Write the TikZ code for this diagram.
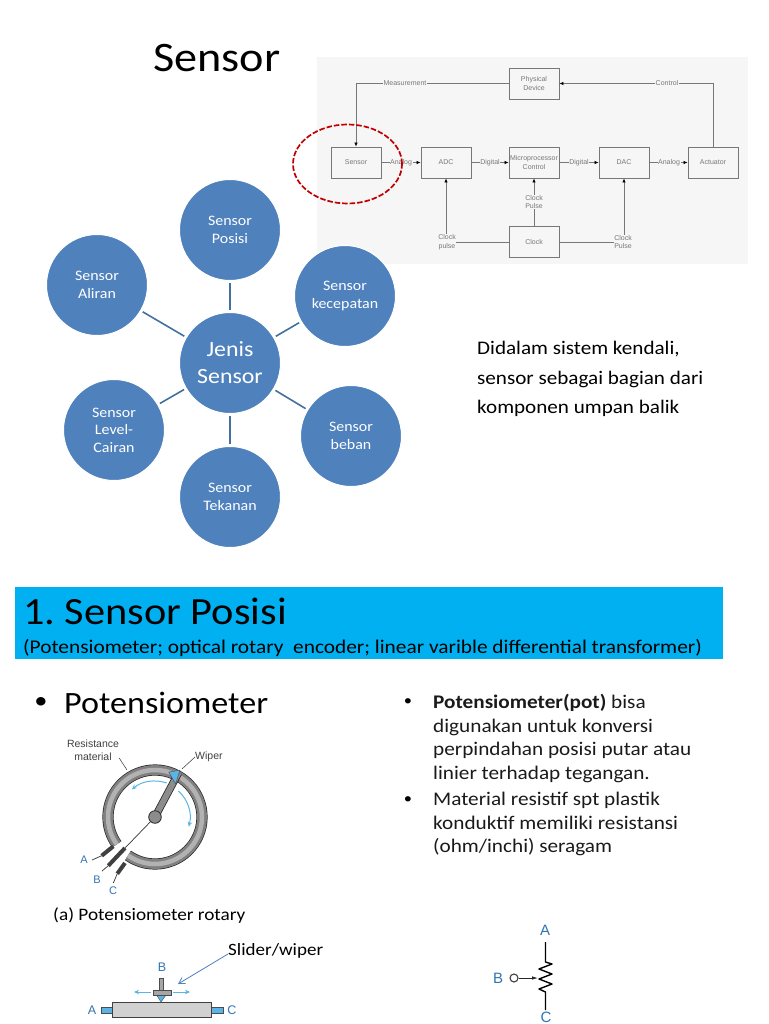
\documentclass[tikz,border=0pt]{standalone}
\usepackage{fontspec}
\setmainfont[FakeStretch=1.1]{Carlito}
\newfontfamily\labelfont{Liberation Sans}
\usetikzlibrary{arrows.meta}
\frenchspacing
\definecolor{circblue}{HTML}{4F81BD}
\definecolor{circline}{HTML}{41719C}
\definecolor{headcyan}{HTML}{00B0F0}
\definecolor{panelgray}{HTML}{F6F6F6}
\definecolor{flowgray}{HTML}{777777}
\definecolor{termblue}{HTML}{2F74B5}
\definecolor{partblue}{HTML}{5BB4E5}
\definecolor{circlered}{HTML}{C00000}
\definecolor{bodytext}{HTML}{1A1A1A}
\begin{document}
\begin{tikzpicture}[x=1pt, y=1pt]
    % Node styles
    \tikzset{
        jenis node/.style={circle,draw=white,line width=1pt,fill=circblue,text=white,minimum size=101pt,inner sep=0pt,align=center,font=\fontsize{14.5}{17.5}\selectfont},
        jenis line/.style={circline,line width=1.6pt,shorten >=2pt,shorten <=2pt},
        flow box/.style={rectangle,draw=flowgray,line width=0.8pt,fill=panelgray,text=flowgray,minimum width=50pt,minimum height=31pt,inner sep=0pt,align=center,font=\labelfont\fontsize{7}{8.5}\selectfont},
        flow label/.style={fill=panelgray,text=flowgray,inner sep=0.6pt,align=center,font=\labelfont\fontsize{7}{8.5}\selectfont},
        flow line/.style={draw=flowgray,line width=0.7pt},
        flow arrow/.style={flow line,-{Latex[length=4pt,width=3.5pt,black]}},
        body text/.style={anchor=west,align=left,inner sep=0pt,text=bodytext,font=\fontsize{19.3}{23.4}\selectfont},
        term label/.style={text=termblue,inner sep=0pt,font=\labelfont\fontsize{11}{12}\selectfont},
        part label/.style={inner sep=0pt,align=center,text=black!75,font=\labelfont\fontsize{10.5}{13}\selectfont},
        blue arrow/.style={draw=partblue,line width=1pt,-{Stealth[length=5pt,width=4.5pt]}}
    }
    \useasboundingbox (0,0) rectangle (768,-1024);

    % Title
    \node[anchor=west,inner sep=0pt,font=\fontsize{42}{50}\selectfont] (title) at (153,-58) {Sensor};

    % Control loop panel
    \fill[panelgray] (317,-57) rectangle (748,-264);
    \node[flow box] (device) at (534,-83.5) {Physical\\Device};
    \node[flow box] (sensor) at (356,-162.5) {Sensor};
    \node[flow box] (adc) at (446,-162.5) {ADC};
    \node[flow box] (micro) at (534,-162.5) {Microprocessor\\Control};
    \node[flow box] (dac) at (624,-162.5) {DAC};
    \node[flow box] (actuator) at (713,-162.5) {Actuator};
    \node[flow box] (clock) at (534,-242) {Clock};

    % Loop connectors
    \draw[flow arrow] (device.west) -- (device.west -| sensor.north) -- (sensor.north);
    \node[flow label] (measure) at (405,-83.5) {Measurement};
    \draw[flow arrow] (actuator.north) -- (actuator.north |- device.east) -- (device.east);
    \node[flow label] (control) at (667,-83.5) {Control};
    \draw[flow arrow] (sensor) -- (adc);
    \node[flow label] (analog1) at (401,-162.5) {Analog};
    \draw[flow arrow] (adc) -- (micro);
    \node[flow label] (digital1) at (490,-162.5) {Digital};
    \draw[flow arrow] (micro) -- (dac);
    \node[flow label] (digital2) at (579,-162.5) {Digital};
    \draw[flow arrow] (dac) -- (actuator);
    \node[flow label] (analog2) at (669,-162.5) {Analog};

    % Clock lines
    \draw[flow arrow] (clock.west) -- (clock.west -| adc.south) -- (adc.south);
    \node[flow label] (pulse1) at (447,-242) {Clock\\pulse};
    \draw[flow arrow] (clock.north) -- (micro.south);
    \node[flow label] (pulse2) at (534,-202) {Clock\\Pulse};
    \draw[flow arrow] (clock.east) -- (clock.east -| dac.south) -- (dac.south);
    \node[flow label] (pulse3) at (623,-242) {Clock\\Pulse};

    % Red marker round the sensor box
    \draw[draw=circlered,line width=1.7pt,dash pattern=on 5.5pt off 2pt] (347.5,-164) ellipse [x radius=54.5, y radius=39.5];

    % Sensor types
    \node[jenis node,font=\fontsize{21.7}{27}\selectfont] (jenis) at (230,-363) {Jenis\\Sensor};
    \node[jenis node] (posisi) at (230,-230) {Sensor\\Posisi};
    \node[jenis node] (kecepatan) at (345,-296) {Sensor\\kecepatan};
    \node[jenis node] (beban) at (351,-436) {Sensor\\beban};
    \node[jenis node] (tekanan) at (230,-497) {Sensor\\Tekanan};
    \node[jenis node] (level) at (114,-430) {Sensor\\Level-\\Cairan};
    \node[jenis node] (aliran) at (97,-285) {Sensor\\Aliran};
    \draw[jenis line] (jenis) -- (posisi);
    \draw[jenis line] (jenis) -- (kecepatan);
    \draw[jenis line] (jenis) -- (beban);
    \draw[jenis line] (jenis) -- (tekanan);
    \draw[jenis line] (jenis) -- (level);
    \draw[jenis line] (jenis) -- (aliran);

    % Note beside the circles
    \node[body text,text=black,font=\fontsize{19.2}{29.5}\selectfont] (note) at (477,-379) {Didalam sistem kendali,\\sensor sebagai bagian dari\\komponen umpan balik};

    % Header band
    \fill[headcyan] (15,-587) rectangle (723,-659);
    \node[anchor=west,inner sep=0pt,font=\fontsize{38.5}{40}\selectfont] (head) at (23,-611) {1. Sensor Posisi};
    \node[anchor=west,inner sep=0pt,font=\fontsize{19.4}{22}\selectfont] (subhead) at (23,-648) {(Potensiometer; optical rotary\ \ encoder; linear varible differential transformer)};

    % Left bullet
    \node[inner sep=0pt,font=\fontsize{24}{26}\selectfont] (dot) at (41,-703) {•};
    \node[anchor=west,inner sep=0pt,font=\fontsize{31}{36}\selectfont] (pot) at (64,-703) {Potensiometer};

    % Right bullets
    \node[inner sep=0pt,font=\fontsize{15}{18}\selectfont] (dota) at (408,-702) {•};
    \node[body text] (texta) at (433,-738.5) {\textbf{Potensiometer(pot)} bisa\\digunakan untuk konversi\\perpindahan posisi putar atau\\linier terhadap tegangan.};
    \node[inner sep=0pt,font=\fontsize{15}{18}\selectfont] (dotb) at (408,-800) {•};
    \node[body text] (textb) at (433,-824) {Material resistif spt plastik\\konduktif memiliki resistansi\\(ohm/inchi) seragam};

    % Rotary potentiometer
    \begin{scope}[shift={(155,-817)}]
        \draw[black!85,line width=11.2pt] (235:47) arc[start angle=235,end angle=575.5,radius=47];
        \draw[black!50,line width=9.8pt] (235:47) arc[start angle=235,end angle=575.5,radius=47];
        \draw[black!30,line width=4.5pt] (235:47) arc[start angle=235,end angle=575.5,radius=47];
        \draw[black!80,line width=0.7pt] (0,0) -- (-30,-31);
        \draw[black!75,line width=4pt] (-41.7,-29.3) -- (-53.3,-38.7);
        \draw[black!75,line width=4pt] (-30,-31) -- (-46.7,-48.7);
        \draw[black!75,line width=4pt] (-30,-46) -- (-37.7,-56.7);
        \draw[black!80,line width=0.7pt] (-53.3,-38.7) -- (-63,-43);
        \draw[black!80,line width=0.7pt] (-46.7,-48.7) -- (-53,-54);
        \draw[black!80,line width=0.7pt] (-37.7,-56.7) -- (-41.7,-66);
        \draw[black!85,line width=7.6pt] (0,0) -- (62:50);
        \draw[black!45,line width=6pt] (0,0) -- (62:50);
        \fill[partblue,draw=black!70,line width=0.4pt] (62:53) -- (73:47) -- (58:39) -- cycle;
        \fill[black!45,draw=black!85,line width=0.8pt] (0,0) circle (6.3);
        \draw[blue arrow] (71:36) arc[start angle=71,end angle=130,radius=36];
        \draw[blue arrow] (48:35) arc[start angle=48,end angle=-16,radius=35];
    \end{scope}
    \node[part label] (material) at (93,-750.5) {Resistance\\material};
    \node[part label,anchor=west] (wiper) at (195,-757) {Wiper};
    \coordinate (materialtip) at (127,-770);
    \draw[black!80,line width=0.5pt] (material.east |- 0,-758) -- (materialtip);
    \coordinate (wipertip) at (182,-769);
    \draw[black!80,line width=0.5pt] (wiper.west) -- (wipertip);
    \node[term label] (ra) at (84,-859.5) {A};
    \node[term label] (rb) at (97,-880) {B};
    \node[term label] (rc) at (113,-891) {C};
    \node[anchor=west,inner sep=0pt,font=\fontsize{17.5}{19}\selectfont] (caption) at (53,-915) {(a) Potensiometer rotary};

    % Linear potensiometer
    \fill[partblue,draw=black!70,line width=0.7pt] (101,-1007) rectangle (112,-1013);
    \fill[partblue,draw=black!70,line width=0.7pt] (211,-1007) rectangle (223,-1013);
    \node[draw=black!75,fill=black!18,line width=0.8pt,minimum width=99pt,minimum height=15pt,inner sep=0pt] (slidebody) at (161.5,-1009.5) {};
    \fill[partblue,draw=black!70,line width=0.4pt] (156.5,-995) -- (166,-995) -- (161,-1002) -- cycle;
    \fill[black!35,draw=black!70,line width=0.6pt] (159,-978) rectangle (163,-990);
    \fill[black!35,draw=black!70,line width=0.6pt] (153,-990) rectangle (171,-995);
    \coordinate (leftstart) at (151,-992);
    \coordinate (leftend) at (134,-992);
    \coordinate (rightstart) at (173,-992);
    \coordinate (rightend) at (190,-992);
    \draw[blue arrow] (leftstart) -- (leftend);
    \draw[blue arrow] (rightstart) -- (rightend);
    \node[term label,font=\labelfont\fontsize{12.5}{13}\selectfont] (sb) at (162,-967) {B};
    \node[term label,font=\labelfont\fontsize{12.5}{13}\selectfont] (sa) at (92,-1010) {A};
    \node[term label,font=\labelfont\fontsize{12.5}{13}\selectfont] (sc) at (232,-1010) {C};
    \node[anchor=west,inner sep=0pt,font=\fontsize{17.3}{19}\selectfont] (slider) at (228,-951) {Slider/wiper};
    \coordinate (slidertip) at (178,-984);
    \draw[draw=circblue,line width=0.8pt,-{Straight Barb[length=6pt,width=7pt]}] (slider.west |- 0,-954) -- (slidertip);

    % Potensiometer symbol
    \node[term label,font=\labelfont\fontsize{15}{16}\selectfont] (pa) at (545,-930) {A};
    \node[term label,font=\labelfont\fontsize{15}{16}\selectfont] (pb) at (498,-978) {B};
    \node[term label,font=\labelfont\fontsize{15}{16}\selectfont] (pc) at (546,-1017.5) {C};
    \node[circle,draw=black!75,line width=1.1pt,minimum size=8pt,inner sep=0pt] (pin) at (514,-978) {};
    \coordinate (zigtip) at (538,-978);
    \draw[black!85,line width=0.8pt,-{Latex[length=6pt,width=3.5pt]}] (pin) -- (zigtip);
    \draw[black,line width=1.4pt,line join=round] (545.5,-942) -- (545.5,-962) -- (552,-964) -- (539,-969) -- (552,-974) -- (539,-979) -- (552,-984) -- (539,-989) -- (545.5,-992) -- (545.5,-1010);
\end{tikzpicture}
\end{document}
